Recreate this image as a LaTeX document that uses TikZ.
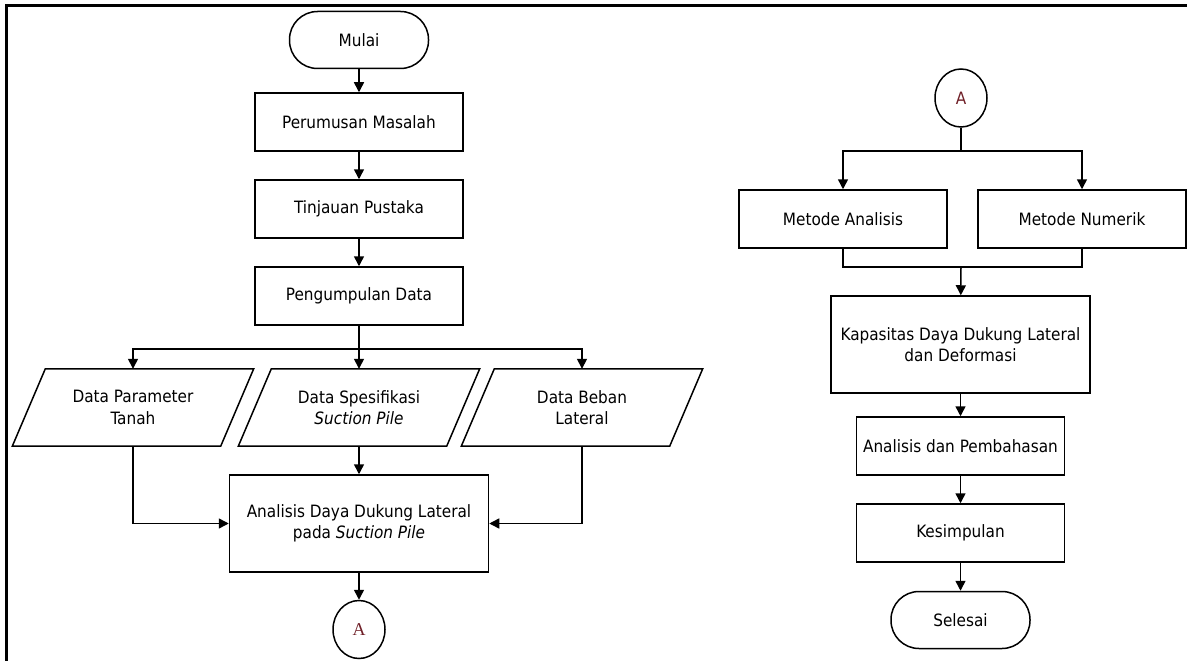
\documentclass[tikz,border=0pt]{standalone}
\usepackage{fontspec}
\setmainfont{DejaVu Sans Condensed}
\newfontfamily\serifA{Liberation Serif}
\usetikzlibrary{arrows.meta,calc,shapes.geometric}
\definecolor{adark}{RGB}{112,32,40}
\tikzset{
  box/.style={draw, line width=1.5pt, minimum width=208pt, minimum height=58pt, align=center, inner sep=2pt, font=\fontsize{17}{21.5}\selectfont},
  bigbox/.style={box, minimum width=259pt, minimum height=97pt},
  term/.style={draw, line width=1.5pt, rounded corners=28pt, minimum width=139pt, minimum height=57pt, font=\fontsize{17}{21.5}\selectfont},
  iobox/.style={minimum width=208pt, minimum height=77pt, align=center, inner sep=2pt, font=\fontsize{17}{21.5}\selectfont},
  conn/.style={draw, line width=1.5pt, ellipse, minimum width=52pt, minimum height=58pt, inner sep=0pt, text=adark},
  arr/.style={line width=1.5pt, -{Triangle[length=10pt,width=10pt]}},
  ln/.style={line width=1.5pt},
}
\begin{document}
\begin{tikzpicture}[x=1pt,y=-1pt]
\useasboundingbox (0,0) rectangle (1187,661);
\fill[white] (0,0) rectangle (1187,661);
\draw[line width=3pt] (6.5,661) -- (6.5,6) -- (1187,6);
% left column
\node[term] (mulai) at (359,40) {Mulai};
\node[box] (rum) at (359,122) {Perumusan Masalah};
\node[box] (tin) at (359,209) {Tinjauan Pustaka};
\node[box] (kum) at (359,296) {Pengumpulan Data};
\node[iobox] (p1) at (133,407.5) {Data Parameter\\Tanah};
\node[iobox] (p2) at (359,407.5) {Data Spesifikasi\\\textit{Suction Pile}};
\node[iobox] (p3) at (582,407.5) {Data Beban\\Lateral};
\foreach \p in {p1,p2,p3}{
  \draw[ln] ($(\p.north west)+(16.5,0)$) -- ($(\p.north east)+(16.5,0)$) -- ($(\p.south east)+(-16.5,0)$) -- ($(\p.south west)+(-16.5,0)$) -- cycle;
}
\node[bigbox] (ana) at (359,523.5) {Analisis Daya Dukung Lateral\\pada \textit{Suction Pile}};
\node[conn, font=\serifA\fontsize{18}{18}\selectfont] (a1) at (359,629.5) {A};
\coordinate (br) at (359,349);
\draw[arr] (mulai) -- (rum);
\draw[arr] (rum) -- (tin);
\draw[arr] (tin) -- (kum);
\draw[arr] (kum) -- (p2);
\draw[arr] (br) -| (p1.north);
\draw[arr] (br) -| (p3.north);
\draw[arr] (p2) -- (ana);
\draw[arr] (p1.south) |- (ana.west);
\draw[arr] (p3.south) |- (ana.east);
\draw[arr] (ana) -- (a1);
% right column
\node[conn, font=\fontsize{17}{18}\selectfont] (a2) at (961,98) {A};
\node[box] (ma) at (843,219) {Metode Analisis};
\node[box] (mn) at (1082,219) {Metode Numerik};
\node[bigbox] (kap) at (960.5,344.5) {Kapasitas Daya Dukung Lateral\\dan Deformasi};
\node[box] (pem) at (960.5,446) {Analisis dan Pembahasan};
\node[box] (kes) at (960.5,533) {Kesimpulan};
\node[term] (sel) at (960.5,620) {Selesai};
\coordinate (br2) at (961,151);
\coordinate (mg) at (961,267);
\draw[ln] (a2) -- (br2);
\draw[arr] (br2) -| (ma.north);
\draw[arr] (br2) -| (mn.north);
\draw[ln] (ma.south) |- (mg) -| (mn.south);
\draw[arr] (mg) -- (kap);
\draw[arr] (kap) -- (pem);
\draw[arr] (pem) -- (kes);
\draw[arr] (kes) -- (sel);
\end{tikzpicture}
\end{document}
